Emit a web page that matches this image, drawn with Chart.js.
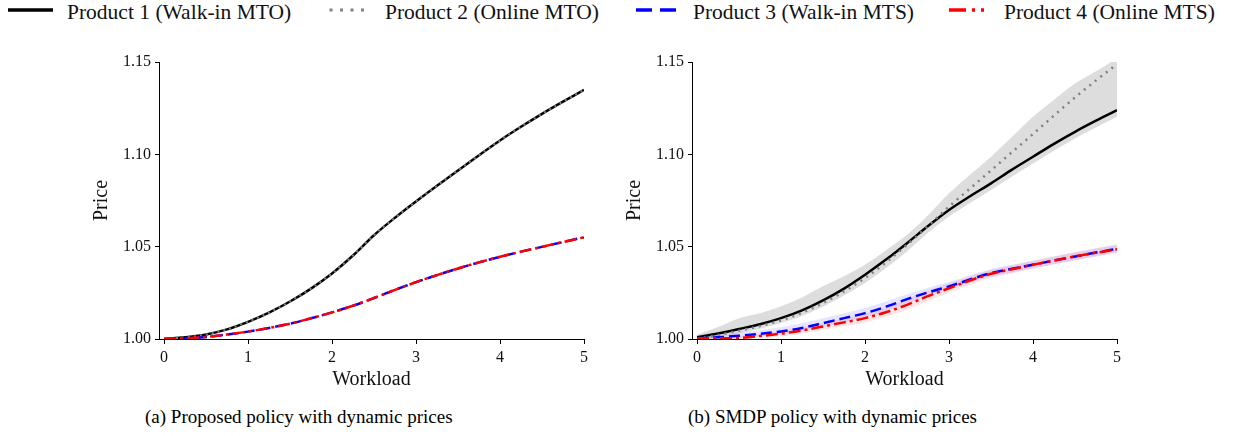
<!DOCTYPE html>
<html lang="en">
<head>
<meta charset="UTF-8">
<title>Price vs Workload</title>
<script src="https://cdn.jsdelivr.net/npm/chart.js"></script>
<style>
  body { margin: 0; background: #fff; width: 1237px; height: 436px; position: relative; overflow: hidden;
         font-family: "Liberation Serif", "DejaVu Serif", serif; color: #000; }
  .leg { position: absolute; font-size: 21.5px; line-height: 26px; top: -1px; white-space: nowrap; color: #111; }
  .sample { position: absolute; top: 4px; }
  .cap { position: absolute; top: 405px; font-size: 19px; line-height: 24px; white-space: nowrap; }
  canvas { position: absolute; top: 40px; }
</style>
</head>
<body>
  <!-- legend -->
  <svg class="sample" style="left:8px" width="45" height="12"><line x1="0" y1="6" x2="45" y2="6" stroke="#000" stroke-width="3.5"/></svg>
  <div class="leg" style="left:67px">Product 1 (Walk-in MTO)</div>
  <svg class="sample" style="left:328px" width="36" height="12"><line x1="1.5" y1="6" x2="36" y2="6" stroke="#808080" stroke-width="3" stroke-dasharray="3 7.5"/></svg>
  <div class="leg" style="left:385px">Product 2 (Online MTO)</div>
  <svg class="sample" style="left:636px" width="40" height="12"><line x1="0" y1="6" x2="40" y2="6" stroke="#0000ff" stroke-width="3.5" stroke-dasharray="16 8"/></svg>
  <div class="leg" style="left:693px">Product 3 (Walk-in MTS)</div>
  <svg class="sample" style="left:949px" width="38" height="12"><line x1="0" y1="6" x2="38" y2="6" stroke="#ff0000" stroke-width="3.5" stroke-dasharray="17 6 3 6 3 10"/></svg>
  <div class="leg" style="left:1004px">Product 4 (Online MTS)</div>

  <canvas id="left" width="620" height="360" style="left:0"></canvas>
  <canvas id="right" width="617" height="360" style="left:620px"></canvas>

  <div class="cap" style="left:145px">(a) Proposed policy with dynamic prices</div>
  <div class="cap" style="left:688px">(b) SMDP policy with dynamic prices</div>

<script>
// workload grid
const workload = [0, 0.25, 0.5, 0.75, 1, 1.25, 1.5, 1.75, 2, 2.25, 2.5, 2.75, 3, 3.25, 3.5, 3.75, 4, 4.25, 4.5, 4.75, 5];
const priceTicks = [1.00, 1.05, 1.10, 1.15];

// (a) proposed policy - MTO products overlap, MTS products overlap
const propMTO = [1.0000, 1.0009, 1.0024, 1.0052, 1.0093, 1.0143, 1.0203, 1.0273, 1.0355, 1.0452, 1.0562,
                 1.0657, 1.0745, 1.0830, 1.0913, 1.0995, 1.1075, 1.1149, 1.1219, 1.1285, 1.1349];
const propMTS = [1.0000, 1.0004, 1.0011, 1.0024, 1.0040, 1.0060, 1.0083, 1.0112, 1.0144, 1.0180, 1.0222,
                 1.0266, 1.0308, 1.0346, 1.0382, 1.0415, 1.0445, 1.0473, 1.0499, 1.0525, 1.0551];

// (b) SMDP policy
const smdpP1 = [1.0010, 1.0030, 1.0054, 1.0080, 1.0113, 1.0155, 1.0209, 1.0273, 1.0348, 1.0430, 1.0519,
                1.0612, 1.0699, 1.0773, 1.0843, 1.0917, 1.0987, 1.1057, 1.1122, 1.1182, 1.1239];
const smdpP2 = [1.0000, 1.0022, 1.0045, 1.0070, 1.0101, 1.0142, 1.0195, 1.0258, 1.0330, 1.0415, 1.0510,
                1.0612, 1.0717, 1.0815, 1.0913, 1.1012, 1.1110, 1.1210, 1.1308, 1.1400, 1.1488];
const smdpP3 = [1.0004, 1.0009, 1.0018, 1.0028, 1.0041, 1.0060, 1.0086, 1.0113, 1.0140, 1.0175, 1.0216,
                1.0252, 1.0285, 1.0322, 1.0357, 1.0380, 1.0402, 1.0425, 1.0447, 1.0468, 1.0488];
const smdpP4 = [1.0004, 1.0004, 1.0006, 1.0016, 1.0029, 1.0046, 1.0068, 1.0090, 1.0113, 1.0145, 1.0185,
                1.0232, 1.0275, 1.0317, 1.0353, 1.0378, 1.0402, 1.0425, 1.0447, 1.0467, 1.0486];

// shaded spread bands for (b)
const mtoUpper = [1.0023, 1.0065, 1.0113, 1.0140, 1.0177, 1.0225, 1.0285, 1.0340, 1.0402, 1.0480, 1.0564,
                  1.0670, 1.0789, 1.0890, 1.0987, 1.1095, 1.1203, 1.1295, 1.1383, 1.1450, 1.1520];
const mtoLower = [1.0000, 1.0008, 1.0030, 1.0055, 1.0086, 1.0125, 1.0175, 1.0235, 1.0303, 1.0385, 1.0474,
                  1.0575, 1.0663, 1.0737, 1.0807, 1.0880, 1.0951, 1.1020, 1.1086, 1.1145, 1.1203];
const p3Upper = [1.0012, 1.0022, 1.0035, 1.0048, 1.0065, 1.0087, 1.0113, 1.0140, 1.0168, 1.0203, 1.0242,
                 1.0278, 1.0308, 1.0345, 1.0378, 1.0402, 1.0424, 1.0447, 1.0470, 1.0492, 1.0512];
const p3Lower = [1.0000, 1.0000, 1.0006, 1.0014, 1.0025, 1.0042, 1.0065, 1.0090, 1.0117, 1.0150, 1.0192,
                 1.0230, 1.0265, 1.0303, 1.0338, 1.0360, 1.0382, 1.0405, 1.0427, 1.0448, 1.0468];
const p4Upper = [1.0010, 1.0012, 1.0016, 1.0028, 1.0044, 1.0063, 1.0088, 1.0112, 1.0138, 1.0172, 1.0215,
                 1.0262, 1.0302, 1.0340, 1.0375, 1.0400, 1.0424, 1.0447, 1.0470, 1.0490, 1.0510];
const p4Lower = [1.0000, 1.0000, 1.0000, 1.0006, 1.0015, 1.0030, 1.0050, 1.0070, 1.0090, 1.0120, 1.0158,
                 1.0205, 1.0250, 1.0292, 1.0330, 1.0355, 1.0380, 1.0403, 1.0425, 1.0445, 1.0465];

const FONT = '"Liberation Serif", "DejaVu Serif", serif';

function pts(ys) {
    return workload.map((x, i) => ({ x: x, y: ys[i] }));
}

function line(ys, color, width, dash, order) {
    return {
        data: pts(ys), borderColor: color, borderWidth: width, borderDash: dash,
        pointRadius: 0, fill: false, cubicInterpolationMode: 'monotone', order: order
    };
}

function band(ys, color, fillTo) {
    return {
        data: pts(ys), borderWidth: 0, borderColor: 'transparent', backgroundColor: color,
        pointRadius: 0, fill: fillTo, cubicInterpolationMode: 'monotone', order: 20
    };
}

function makeChart(id, datasets, yWidth, padRight, titlePad) {
    return new Chart(document.getElementById(id), {
        type: 'line',
        data: { datasets: datasets },
        options: {
            responsive: false,
            animation: false,
            layout: { padding: { left: 0, right: padRight, top: 22, bottom: 0 } },
            plugins: { legend: { display: false }, tooltip: { enabled: false } },
            scales: {
                x: {
                    type: 'linear', min: -0.06, max: 5,
                    afterFit: s => { s.height = 61; },
                    ticks: { stepSize: 1, includeBounds: false, padding: 4, color: '#111',
                             font: { family: FONT, size: 16 } },
                    grid: { drawOnChartArea: false, drawTicks: true, tickLength: 5, color: '#000' },
                    border: { display: true, color: '#000', width: 1 },
                    title: { display: true, text: 'Workload', color: '#111',
                             font: { family: FONT, size: 20 }, padding: { top: 0, bottom: 8 } }
                },
                y: {
                    min: 1.0, max: 1.15,
                    afterFit: s => { s.width = yWidth; },
                    afterBuildTicks: s => { s.ticks = priceTicks.map(v => ({ value: v })); },
                    ticks: { padding: 4, color: '#111', font: { family: FONT, size: 16 },
                             callback: v => Number(v).toFixed(2) },
                    grid: { drawOnChartArea: false, drawTicks: true, tickLength: 4, color: '#000' },
                    border: { display: true, color: '#000', width: 1 },
                    title: { display: true, text: 'Price', color: '#111',
                             font: { family: FONT, size: 20 }, padding: { top: titlePad, bottom: 0 } }
                }
            }
        }
    });
}

makeChart('left', [
    line(propMTO, '#000000', 2.5, [], 4),
    line(propMTO, '#808080', 2, [2, 4], 3),
    line(propMTS, '#0000ff', 2.5, [11, 5], 2),
    line(propMTS, '#ff0000', 2.5, [12, 4, 3, 4], 1)
], 159, 36, 90);

makeChart('right', [
    band(mtoUpper, 'rgba(150,150,150,0.32)', '+1'),
    band(mtoLower, 'transparent', false),
    band(p3Upper, 'rgba(0,0,255,0.10)', '+1'),
    band(p3Lower, 'transparent', false),
    band(p4Upper, 'rgba(255,0,0,0.10)', '+1'),
    band(p4Lower, 'transparent', false),
    line(smdpP1, '#000000', 2.5, [], 4),
    line(smdpP2, '#808080', 2.5, [2, 5], 3),
    line(smdpP3, '#0000ff', 2.5, [11, 5], 2),
    line(smdpP4, '#ff0000', 2.5, [12, 4, 3, 4], 1)
], 72, 120, 3);
</script>
</body>
</html>
